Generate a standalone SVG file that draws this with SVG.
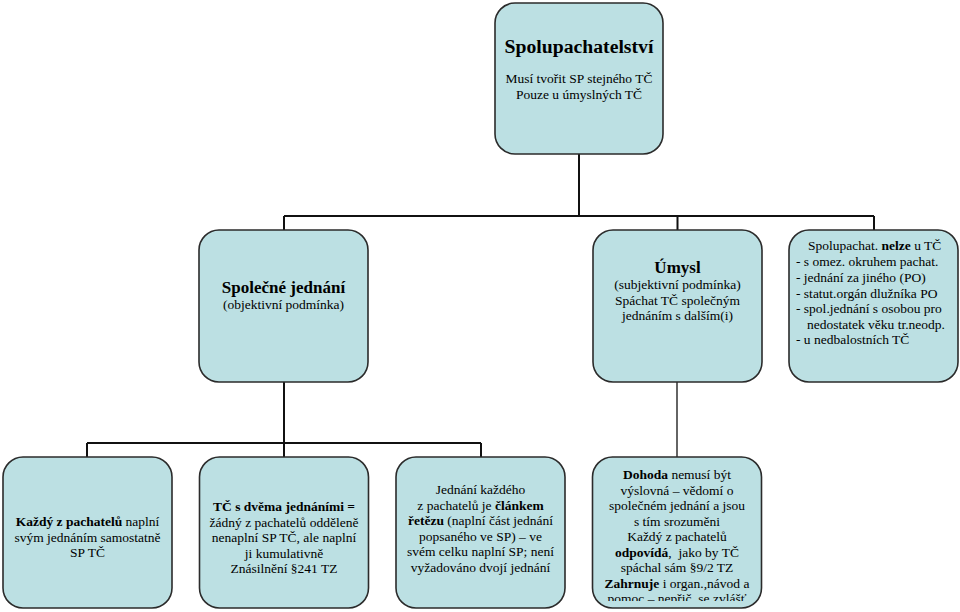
<svg xmlns="http://www.w3.org/2000/svg" width="960" height="612" viewBox="0 0 960 612">
<style>
.box{fill:#BCE0E3;stroke:#2b2b2b;stroke-width:1.6}
.t{font-family:"Liberation Serif","Times New Roman",serif;font-size:13.5px;fill:#000000;text-anchor:middle}
.l{text-anchor:start}
.b{font-weight:bold}
.conn{stroke:#111111;stroke-width:2;fill:none}
.thin{stroke-width:1.3}
</style>
<defs>
<clipPath id="clip4"><rect x="592" y="457" width="170" height="144"/></clipPath>
</defs>
<rect width="960" height="612" fill="#ffffff"/>
<g id="connectors">
<path class="conn" d="M579,154 V216 M284,216 H874 M284,216 V230 M677.5,216 V230 M874,216 V230"/>
<path class="conn" d="M284,382 V457 M87,443 H481 M87,443 V457 M481,443 V457"/>
<path class="conn thin" d="M677,382 V457"/>
</g>
<g id="n0">
<rect class="box" x="495" y="3" width="168" height="151" rx="20"/>
<text class="t b" x="579" y="53" style="font-size:19.7px">Spolupachatelství</text>
<text class="t" x="579" y="83">Musí tvořit SP stejného TČ</text>
<text class="t" x="579" y="99">Pouze u úmyslných TČ</text>
</g>
<g id="n1">
<rect class="box" x="199" y="230" width="169" height="152" rx="20"/>
<text class="t b" x="283.5" y="293" style="font-size:17px">Společné jednání</text>
<text class="t" x="283.5" y="309">(objektivní podmínka)</text>
</g>
<g id="n2">
<rect class="box" x="593" y="230" width="169" height="152" rx="20"/>
<text class="t b" x="677.5" y="273" style="font-size:17px">Úmysl</text>
<text class="t" x="677.5" y="289">(subjektivní podmínka)</text>
<text class="t" x="677.5" y="304.5">Spáchat TČ společným</text>
<text class="t" x="677.5" y="320">jednáním s dalším(i)</text>
</g>
<g id="n3">
<rect class="box" x="789" y="230" width="169" height="152" rx="20"/>
<text class="t l" x="808" y="250">Spolupachat. <tspan class="b">nelze</tspan> u TČ</text>
<text class="t l" x="796" y="266">- s omez. okruhem pachat.</text>
<text class="t l" x="796" y="282">- jednání za jiného (PO)</text>
<text class="t l" x="796" y="297.5">- statut.orgán dlužníka PO</text>
<text class="t l" x="796" y="313">- spol.jednání s osobou pro</text>
<text class="t l" x="807" y="328.5">nedostatek věku tr.neodp.</text>
<text class="t l" x="796" y="344">- u nedbalostních TČ</text>
</g>
<g id="n4">
<rect class="box" x="3" y="457" width="169" height="151" rx="20"/>
<text class="t" x="87.5" y="526"><tspan class="b">Každý z pachatelů</tspan> naplní</text>
<text class="t" x="87.5" y="541.5">svým jednáním samostatně</text>
<text class="t" x="87.5" y="557">SP TČ</text>
</g>
<g id="n5">
<rect class="box" x="199.5" y="457" width="169" height="151" rx="20"/>
<text class="t b" x="284" y="511">TČ s dvěma jednáními =</text>
<text class="t" x="284" y="526.5">žádný z pachatelů odděleně</text>
<text class="t" x="284" y="542">nenaplní SP TČ, ale naplní</text>
<text class="t" x="284" y="557.5">ji kumulativně</text>
<text class="t" x="284" y="573">Znásilnění §241 TZ</text>
</g>
<g id="n6">
<rect class="box" x="396" y="457" width="169" height="151" rx="20"/>
<text class="t" x="480.5" y="494">Jednání každého</text>
<text class="t" x="480.5" y="509.5">z pachatelů je <tspan class="b">článkem</tspan></text>
<text class="t" x="480.5" y="525"><tspan class="b">řetězu</tspan> (naplní část jednání</text>
<text class="t" x="480.5" y="540.5">popsaného ve SP) – ve</text>
<text class="t" x="480.5" y="556">svém celku naplní SP; není</text>
<text class="t" x="480.5" y="571.5">vyžadováno dvojí jednání</text>
</g>
<g id="n7">
<rect class="box" x="592.5" y="457" width="169" height="151" rx="20"/>
<g clip-path="url(#clip4)">
<text class="t" x="677" y="479"><tspan class="b">Dohoda</tspan> nemusí být</text>
<text class="t" x="677" y="494.5">výslovná – vědomí o</text>
<text class="t" x="677" y="510">společném jednání a jsou</text>
<text class="t" x="677" y="525.5">s tím srozuměni</text>
<text class="t" x="677" y="541">Každý z pachatelů</text>
<text class="t" x="677" y="556.5" style="white-space:pre"><tspan class="b">odpovídá</tspan>,  jako by TČ</text>
<text class="t" x="677" y="572">spáchal sám §9/2 TZ</text>
<text class="t" x="677" y="587.5"><tspan class="b">Zahrnuje</tspan> i organ.,návod a</text>
<text class="t" x="677" y="603">pomoc – nepřič. se zvlášť</text>
</g>
</g>
</svg>
